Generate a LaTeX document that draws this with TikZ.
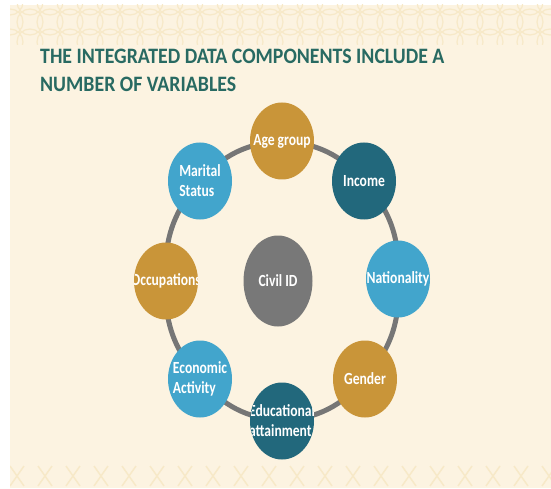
\documentclass[tikz,border=0pt]{standalone}
\usepackage{fontspec}
\setmainfont{Carlito}
\newfontfamily\narrowfont[FakeStretch=0.9]{Carlito}
\newfontfamily\slimfont[FakeStretch=0.8]{Carlito}
\usetikzlibrary{shapes.geometric}

\definecolor{cream}{RGB}{252,243,225}
\definecolor{creamline}{RGB}{247,233,200}
\definecolor{gold}{RGB}{201,149,57}
\definecolor{skyblue}{RGB}{66,165,204}
\definecolor{deepteal}{RGB}{34,104,124}
\definecolor{idgray}{RGB}{120,120,120}
\definecolor{ringgray}{RGB}{118,118,118}
\definecolor{titlegreen}{RGB}{40,106,98}

\pgfdeclarelayer{paper}
\pgfdeclarelayer{links}
\pgfsetlayers{paper,links,main}

\begin{document}
\begin{tikzpicture}[x=1pt,y=1pt]
    \tikzset{
      bubble/.style={ellipse, fill=#1, minimum width=64pt, minimum height=77pt, inner sep=0pt},
      inscribed/.style={path picture={\node[text=white, font=\slimfont\bfseries\fontsize{17}{20}\selectfont, align=left] at (path picture bounding box.center) {#1};}},
      ring/.style={draw=ringgray, line width=5pt},
      heading/.style={text=titlegreen, font=\narrowfont\bfseries\fontsize{22}{28}\selectfont, align=left, anchor=base west, inner sep=0pt}
    }
    \useasboundingbox (0,0) rectangle (551,488);

    % anchor sits on the baseline of the second line
    \draw (40,396) node (title) [heading] {THE INTEGRATED DATA COMPONENTS INCLUDE A\\NUMBER OF VARIABLES};

    \draw (278,207) node (civil) [bubble=idgray, minimum width=69pt, minimum height=91pt, inscribed={Civil ID}] {};
    \draw (282,347) node (age) [bubble=gold, inscribed={Age group}] {};
    \draw (364,307) node (income) [bubble=deepteal, inscribed={Income}] {};
    \draw (398,209) node (nation) [bubble=skyblue, inscribed={Nationality}] {};
    \draw (365,109) node (gender) [bubble=gold, inscribed={Gender}] {};
    \draw (282,67) node (edu) [bubble=deepteal, inscribed={Educational\\attainment}] {};
    \draw (200,109) node (econ) [bubble=skyblue, inscribed={Economic\\Activity}] {};
    \draw (166,207) node (occup) [bubble=gold, inscribed={Occupations}] {};
    \draw (200,307) node (marital) [bubble=skyblue, inscribed={Marital\\Status}] {};

    % ring behind the outer bubbles
    \begin{pgfonlayer}{links}
      \foreach \from/\to in {age/income, income/nation, nation/gender, gender/edu,
                             edu/econ, econ/occup, occup/marital, marital/age}
        \draw[ring] (\from.center) to[bend left=22] (\to.center);
    \end{pgfonlayer}

    % paper with the faint borders
    \begin{pgfonlayer}{paper}
      \fill[cream] (10,0) rectangle (551,483);
      \begin{scope}
        \clip (10,443) rectangle (551,483);
        \foreach \x in {0,20,...,560}
          \foreach \y in {446,466,486}
            \draw[creamline, line width=1.2pt] (\x+10,\y) circle (13);
      \end{scope}
      \begin{scope}
        \clip (10,0) rectangle (551,24);
        \foreach \x in {10,38,...,560}
          \draw[creamline, line width=1.5pt] (\x,2) -- (\x+14,22) (\x+14,2) -- (\x,22);
      \end{scope}
    \end{pgfonlayer}
\end{tikzpicture}
\end{document}
